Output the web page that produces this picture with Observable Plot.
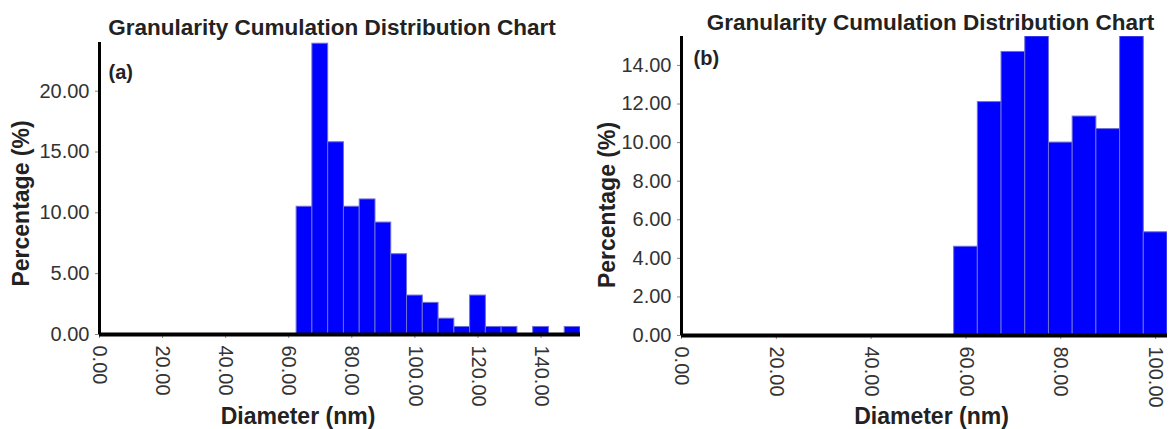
<!DOCTYPE html>
<html>
<head>
<meta charset="utf-8">
<script src="https://cdn.jsdelivr.net/npm/d3@7"></script>
<script src="https://cdn.jsdelivr.net/npm/@observablehq/plot@0.6"></script>
<style>
  html, body { margin: 0; padding: 0; background: #fff; }
  #wrap { display: flex; width: 1169px; height: 429px; }
  svg { display: block; }
</style>
</head>
<body>
<div id="wrap"></div>
<script>
// ---- data ----
const chartTitle = "Granularity Cumulation Distribution Chart";
const xLabel = "Diameter (nm)";
const yLabel = "Percentage (%)";
const binWidth = 5;

// panel (a)
const panelA = "(a)";
const binStartA = [62.5, 67.5, 72.5, 77.5, 82.5, 87.5, 92.5, 97.5, 102.5, 107.5, 112.5, 117.5, 122.5, 127.5, 132.5, 137.5, 142.5, 147.5];
const percentA  = [10.5, 23.9, 15.8, 10.5, 11.1, 9.2, 6.6, 3.2, 2.6, 1.3, 0.62, 3.2, 0.62, 0.62, 0, 0.62, 0, 0.62];
const xTicksA = [0, 20, 40, 60, 80, 100, 120, 140];
const yTicksA = [0, 5, 10, 15, 20];

// panel (b)
const panelB = "(b)";
const binStartB = [57.5, 62.5, 67.5, 72.5, 77.5, 82.5, 87.5, 92.5, 97.5];
const percentB  = [4.6, 12.1, 14.7, 15.5, 10.0, 11.35, 10.7, 15.5, 5.35];
const xTicksB = [0, 20, 40, 60, 80, 100];
const yTicksB = [0, 2, 4, 6, 8, 10, 12, 14];

const font = "'Liberation Sans', Arial, sans-serif";
const fmt = d3.format(".2f");

function panel(opts) {
  const rows = opts.starts.map((s, i) => ({x1: s, x2: s + binWidth, y: opts.values[i]})).filter(d => d.y > 0);
  return Plot.plot({
    width: opts.width,
    height: 429,
    marginLeft: opts.ml,
    marginRight: opts.mr,
    marginTop: opts.mt,
    marginBottom: opts.mb,
    style: {fontFamily: font, background: "white", overflow: "visible"},
    x: {domain: opts.xDomain, ticks: opts.xTicks, tickFormat: fmt},
    y: {domain: opts.yDomain, ticks: opts.yTicks, tickFormat: fmt},
    marks: [
      Plot.rectY(rows, {x1: "x1", x2: "x2", y: "y", fill: "#0000ff", stroke: "#6f6fd6", strokeWidth: 1, clip: true}),
      Plot.axisX({ticks: opts.xTicks, tickFormat: fmt, tickRotate: 90, tickSize: 4, tickPadding: 7, fontSize: 20, fill: "#333", stroke: "#888", label: null}),
      Plot.axisY({ticks: opts.yTicks, tickFormat: fmt, tickSize: 4, tickPadding: 6, fontSize: 20, fill: "#333", stroke: "#888", label: null}),
      Plot.ruleX([0], {stroke: "black", strokeWidth: 3}),
      Plot.ruleY([0], {stroke: "black", strokeWidth: 4}),
      Plot.text([chartTitle], {frameAnchor: "top", lineAnchor: "bottom", dx: opts.titleDx, dy: opts.titleDy, fontSize: 22.5, fontWeight: "bold", fill: "#222"}),
      Plot.text([opts.tag], {frameAnchor: "top-left", textAnchor: "start", lineAnchor: "bottom", dx: opts.tagDx, dy: opts.tagDy, fontSize: 20, fontWeight: "bold", fill: "#222"}),
      Plot.text([yLabel], {frameAnchor: "left", rotate: -90, textAnchor: "middle", lineAnchor: "middle", dx: opts.ylDx, dy: opts.ylDy, fontSize: 23, fontWeight: "bold", fill: "#222"}),
      Plot.text([xLabel], {frameAnchor: "bottom", lineAnchor: "bottom", dx: opts.xlDx, dy: opts.xlDy, fontSize: 23, fontWeight: "bold", fill: "#222"})
    ]
  });
}

const wrap = document.getElementById("wrap");
wrap.append(panel({
  width: 590, ml: 99, mr: 10, mt: 42, mb: 95,
  starts: binStartA, values: percentA, xDomain: [0, 152.5], yDomain: [0, 24],
  xTicks: xTicksA, yTicks: yTicksA, tag: panelA,
  titleDx: -8, titleDy: -8, tagDx: 9, tagDy: 36,
  ylDx: -78, ylDy: 15, xlDx: -42, xlDy: 89
}));
wrap.append(panel({
  width: 579, ml: 91, mr: 2, mt: 36, mb: 94,
  starts: binStartB, values: percentB, xDomain: [0, 102.5], yDomain: [0, 15.5],
  xTicks: xTicksB, yTicks: yTicksB, tag: panelB,
  titleDx: 6, titleDy: -7, tagDx: 12, tagDy: 28,
  ylDx: -74, ylDy: 19, xlDx: 7, xlDy: 88
}));
</script>
</body>
</html>
